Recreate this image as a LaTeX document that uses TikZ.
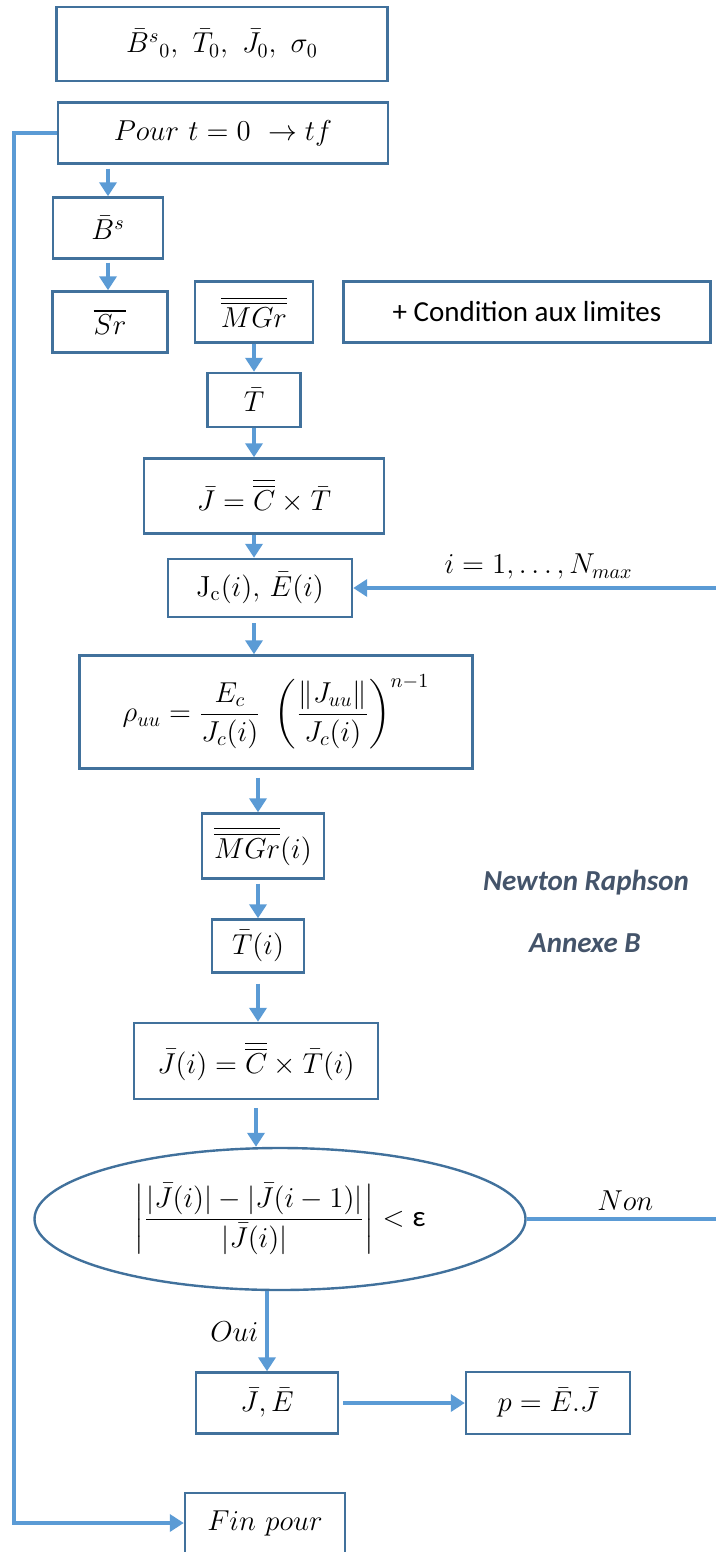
\documentclass[tikz,border=0pt]{standalone}
\usepackage{amsmath,amssymb}
\usepackage{fontspec}
\newfontfamily\calibri{Carlito}
\usepackage{xcolor}
\usepackage{tikz}
\usetikzlibrary{arrows.meta,calc,positioning,shapes.geometric}
\definecolor{boxblue}{HTML}{41719C}
\definecolor{arrblue}{HTML}{5B9BD5}
\definecolor{notegray}{HTML}{44546A}

\begin{document}
\begin{tikzpicture}[x=0.5pt,y=-0.5pt,
  box/.style={draw=boxblue,line width=1.2pt,inner sep=0pt,align=center,font=\fontsize{14.5}{17}\selectfont},
  lbl/.style={font=\fontsize{14.5}{17}\selectfont},
  note/.style={font=\calibri\bfseries\itshape\fontsize{14.5}{17}\selectfont,text=notegray},
  lnk/.style={draw=arrblue,line width=2pt},
  arr/.style={lnk,-{Triangle[width=8.5pt,length=7pt]}}
]
\useasboundingbox (0,0) rectangle (716,1552);
\node[box,minimum width=165.5pt,minimum height=37pt] (init) at (222,44) {$\bar{B}^{s}{}_{0},\ \bar{T}_{0},\ \bar{J}_{0},\ \sigma_{0}$};
\node[box,minimum width=165pt,minimum height=30.5pt] (pour) at (223,133) {$Pour\ t=0\ \rightarrow tf$};
\node[box,minimum width=55pt,minimum height=30.5pt] (bs) at (108,228) {$\bar{B}^{s}$};
\node[box,minimum width=57.5pt,minimum height=30.5pt] (sr) at (110,322) {$\overline{Sr}$};
\node[box,minimum width=59pt,minimum height=30.5pt] (mgr) at (254,312) {$\overline{\overline{MGr}}$};
\node[box,minimum width=183.5pt,minimum height=30.5pt,font=\calibri\fontsize{14.5}{17}\selectfont] (cond) at (527,312) {+ Condition aux limites};
\node[box,minimum width=46.5pt,minimum height=27pt] (t) at (254,400) {$\bar{T}$};
\node[box,minimum width=120pt,minimum height=37.5pt] (j) at (264,496) {$\bar{J}=\overline{\overline{C}}\times\bar{T}$};
\node[box,minimum width=92pt,minimum height=29pt] (jc) at (260,588) {$\mathrm{J_c}(i),\,\bar{E}(i)$};
\node[box,minimum width=196.5pt,minimum height=56.5pt] (rho) at (276,712) {$\rho_{uu}=\dfrac{E_c}{J_c(i)}\ \left(\dfrac{\lVert J_{uu}\rVert}{J_c(i)}\right)^{n-1}$};
\node[box,minimum width=61pt,minimum height=32.5pt] (mgri) at (263,846) {$\overline{\overline{MGr}}(i)$};
\node[box,minimum width=46pt,minimum height=26.5pt] (ti) at (258,946) {$\bar{T}(i)$};
\node[box,minimum width=122pt,minimum height=38pt] (ji) at (256,1061) {$\bar{J}(i)=\overline{\overline{C}}\times\bar{T}(i)$};
\node[box,ellipse,minimum width=245.5pt,minimum height=71pt] (test) at (280,1219) {$\left|\dfrac{|\bar{J}(i)|-|\bar{J}(i-1)|}{|\bar{J}(i)|}\right|<\mbox{\calibri ε}$};
\node[box,minimum width=71pt,minimum height=30.5pt] (je) at (267,1403) {$\bar{J},\bar{E}$};
\node[box,minimum width=82pt,minimum height=31pt] (p) at (548,1403) {$p=\bar{E}.\bar{J}$};
\node[box,minimum width=80pt,minimum height=30pt] (fin) at (265,1523) {$Fin\ pour$};
\node[note] (newton) at (586,883) {Newton Raphson};
\node[note] (annexe) at (585,943) {Annexe B};
\coordinate (retour) at (14,133);
\coordinate (boucle) at (724,0);
% main chain
\draw[arr] (bs.north |- pour.south) ++(0,4) -- (bs.north);
\draw[arr] (bs.south) ++(0,3) -- (bs.south |- sr.north);
\draw[arr] (mgr.south) -- (t.north);
\draw[arr] (t.south) -- (t.south |- j.north);
\draw[arr] (j.south -| t) -- (jc.north -| t);
\draw[arr] (jc.south -| t) ++(0,5) -- (rho.north -| t);
\draw[arr] (rho.south -| ti) ++(0,8) -- (mgri.north -| ti);
\draw[arr] (mgri.south -| ti) ++(0,4) -- (ti.north);
\draw[arr] (ti.south) ++(0,10) -- (ti.south |- ji.north);
\draw[arr] (ji.south) ++(0,8) -- (ji.south |- test.north);
\draw[arr] (test.south -| je) -- node[lbl,left] {$Oui$} (je.north);
\draw[arr] (je.east) ++(4,0) -- (p.west);
% loops
\draw[lnk] (test.east) -- node[lbl,above] {$Non$} (test.east -| boucle) -- (boucle |- jc.east);
\draw[arr] (boucle |- jc.east) -- node[lbl,above] {$i=1,\ldots,N_{max}$} (jc.east);
\draw[arr] (pour.west) -- (retour) |- (fin.west);
\end{tikzpicture}
\end{document}
